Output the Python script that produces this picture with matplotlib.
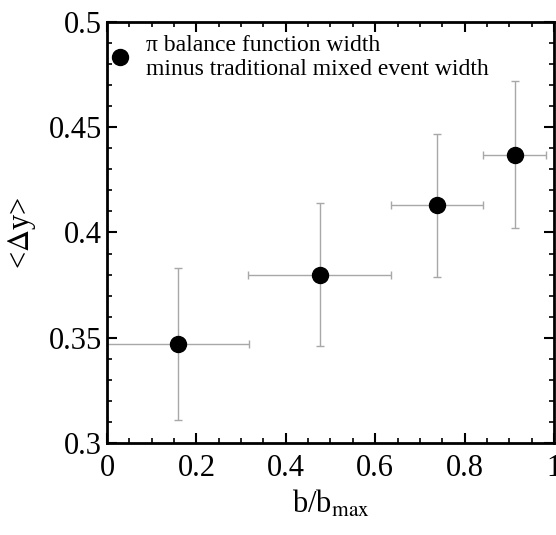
import matplotlib.pyplot as plt
from matplotlib.ticker import MultipleLocator

# centrality bins (b/b_max) and width difference
b_frac = [0.159, 0.476, 0.738, 0.912]
b_err = [0.159, 0.160, 0.103, 0.070]
dy = [0.347, 0.380, 0.413, 0.437]
dy_err = [0.036, 0.034, 0.034, 0.035]

plt.rcParams['font.family'] = ['Liberation Serif', 'DejaVu Serif']
plt.rcParams['mathtext.fontset'] = 'stix'

fig = plt.figure(figsize=(5.56, 5.35), dpi=100)
ax = fig.add_axes([0.1924, 0.172, 0.8040, 0.787])

ax.errorbar(b_frac, dy, xerr=b_err, yerr=dy_err, fmt='none',
            ecolor='#a8a8a8', elinewidth=1.0, capsize=3, capthick=1.0, zorder=2)
ax.plot(b_frac, dy, 'o', color='black', markersize=11.5, zorder=3,
        label='\u03c0 balance function width\nminus traditional mixed event width')

ax.set_xlim(0, 1)
ax.set_ylim(0.3, 0.5)
ax.set_xticks([0, 0.2, 0.4, 0.6, 0.8, 1])
ax.set_xticklabels(['0', '0.2', '0.4', '0.6', '0.8', '1'])
ax.set_yticks([0.3, 0.35, 0.4, 0.45, 0.5])
ax.set_yticklabels(['0.3', '0.35', '0.4', '0.45', '0.5'])
ax.xaxis.set_minor_locator(MultipleLocator(0.05))
ax.yaxis.set_minor_locator(MultipleLocator(0.01))
ax.tick_params(which='both', direction='in', top=True, right=True, labelsize=22)
ax.tick_params(which='major', length=7, width=1.5)
ax.tick_params(which='minor', length=3.5, width=1.2)
ax.tick_params(axis='x', pad=8)
for s in ax.spines.values():
    s.set_linewidth(2)

ax.set_xlabel('b/b$_{\\mathrm{max}}$', fontsize=22, labelpad=4)
ax.set_ylabel('<$\\Delta$y>', fontsize=22, labelpad=8)

ax.legend(loc='upper left', bbox_to_anchor=(0.0, 0.975), frameon=False,
          fontsize=17, handletextpad=0.65, borderaxespad=0.0,
          handlelength=0.9, borderpad=0.1, labelspacing=0.2)

fig.savefig('out.png', dpi=100)
